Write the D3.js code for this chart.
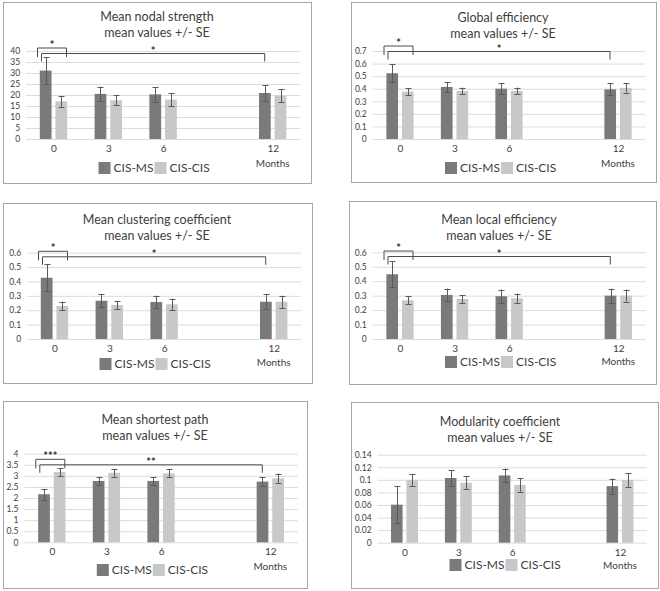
<!DOCTYPE html>
<html>
<head>
<meta charset="utf-8">
<script src="https://cdn.jsdelivr.net/npm/d3@7"></script>
<style>
  body { margin: 0; background: #fff; }
  svg { font-family: Lato, "Liberation Sans", sans-serif; }
</style>
</head>
<body>
<div class="chart"></div>
<script>
// categories
const months = [0, 3, 6, 12];
const seriesNames = ["CIS-MS", "CIS-CIS"];

// mean nodal strength
const strengthMS = [31.1, 20.5, 20.3, 20.9];
const strengthMSse = [6.0, 3.3, 3.3, 3.5];
const strengthCIS = [17.1, 17.6, 17.9, 19.7];
const strengthCISse = [2.4, 2.2, 2.9, 2.9];
const strengthTicks = [0, 5, 10, 15, 20, 25, 30, 35, 40];

// global efficiency
const globalMS = [0.523, 0.414, 0.40, 0.395];
const globalMSse = [0.071, 0.04, 0.043, 0.047];
const globalCIS = [0.377, 0.382, 0.382, 0.406];
const globalCISse = [0.027, 0.027, 0.027, 0.037];
const globalTicks = [0, 0.1, 0.2, 0.3, 0.4, 0.5, 0.6, 0.7];

// mean clustering coefficient
const clusterMS = [0.426, 0.266, 0.257, 0.259];
const clusterMSse = [0.095, 0.046, 0.044, 0.051];
const clusterCIS = [0.229, 0.236, 0.241, 0.259];
const clusterCISse = [0.03, 0.03, 0.039, 0.042];
const clusterTicks = [0, 0.1, 0.2, 0.3, 0.4, 0.5, 0.6];

// mean local efficiency
const localMS = [0.448, 0.305, 0.296, 0.30];
const localMSse = [0.09, 0.044, 0.046, 0.049];
const localCIS = [0.268, 0.277, 0.282, 0.30];
const localCISse = [0.028, 0.026, 0.032, 0.042];
const localTicks = [0, 0.1, 0.2, 0.3, 0.4, 0.5, 0.6];

// mean shortest path
const pathMS = [2.17, 2.77, 2.77, 2.74];
const pathMSse = [0.24, 0.18, 0.18, 0.19];
const pathCIS = [3.17, 3.14, 3.11, 2.89];
const pathCISse = [0.17, 0.18, 0.18, 0.21];
const pathTicks = [0, 0.5, 1, 1.5, 2, 2.5, 3, 3.5, 4];

// modularity coefficient
const modMS = [0.0605, 0.103, 0.107, 0.090];
const modMSse = [0.029, 0.012, 0.011, 0.012];
const modCIS = [0.100, 0.0955, 0.092, 0.100];
const modCISse = [0.0095, 0.01, 0.011, 0.011];
const modTicks = [0, 0.02, 0.04, 0.06, 0.08, 0.1, 0.12, 0.14];

// significance marks: [small bracket label, big bracket label]
const sigStrength = ["*", "*"];
const sigGlobal = ["*", "*"];
const sigCluster = ["*", "*"];
const sigLocal = ["*", "*"];
const sigPath = ["***", "**"];

const colors = {"CIS-MS": "#7a7a7a", "CIS-CIS": "#c8c8c8"};

const panels = [
  {title: "Mean nodal strength", ms: strengthMS, mse: strengthMSse, cis: strengthCIS, cse: strengthCISse, ticks: strengthTicks, sig: sigStrength,
   box: [3, 2, 308, 181], c0: 53.5, c12: 272.7, y0: 139, yTop: 51, tY: 17, tX: 157, brY: 48, legY: 162, monY: 163},
  {title: "Global efficiency", ms: globalMS, mse: globalMSse, cis: globalCIS, cse: globalCISse, ticks: globalTicks, sig: sigGlobal,
   box: [351, 2, 305, 180], c0: 400, c12: 618, y0: 139, yTop: 51, tY: 18, tX: 503, brY: 46, legY: 162, monY: 163},
  {title: "Mean clustering coefficient", ms: clusterMS, mse: clusterMSse, cis: clusterCIS, cse: clusterCISse, ticks: clusterTicks, sig: sigCluster,
   box: [3, 203, 309, 180], c0: 54.5, c12: 273.7, y0: 339, yTop: 252.7, tY: 220, tX: 157, brY: 251.3, legY: 358, monY: 362.7},
  {title: "Mean local efficiency", ms: localMS, mse: localMSse, cis: localCIS, cse: localCISse, ticks: localTicks, sig: sigLocal,
   box: [349, 201, 307, 183], c0: 400, c12: 618.3, y0: 339, yTop: 252.3, tY: 220, tX: 499, brY: 251, legY: 356, monY: 361.7},
  {title: "Mean shortest path", ms: pathMS, mse: pathMSse, cis: pathCIS, cse: pathCISse, ticks: pathTicks, sig: sigPath,
   box: [3, 401, 304, 187], c0: 51.8, c12: 270.3, y0: 542.3, yTop: 453.7, tY: 420, tX: 155, brY: 459.3, legY: 564, monY: 566.7},
  {title: "Modularity coefficient", ms: modMS, mse: modMSse, cis: modCIS, cse: modCISse, ticks: modTicks, sig: null,
   box: [351, 402, 307, 186], c0: 404.5, c12: 620, y0: 542.7, yTop: 454.7, tY: 421.7, tX: 500, brY: 0, legY: 559, monY: 565}
];

const svg = d3.select(".chart").append("svg")
    .attr("width", 660)
    .attr("height", 591);

const fmt = v => String(+v.toFixed(3));

panels.forEach(p => {
  const g = svg.append("g");
  const [bx, by, bw, bh] = p.box;

  g.append("rect")
    .attr("x", bx + 0.5).attr("y", by + 0.5)
    .attr("width", bw).attr("height", bh)
    .attr("fill", "#fff")
    .attr("stroke", "#a6a6a6");

  // title
  g.append("text")
    .attr("x", p.tX).attr("y", p.tY)
    .attr("dy", "0.35em")
    .attr("text-anchor", "middle")
    .attr("font-size", 12.5)
    .attr("fill", "#404040")
    .text(p.title);
  g.append("text")
    .attr("x", p.tX).attr("y", p.tY + 15.5)
    .attr("dy", "0.35em")
    .attr("text-anchor", "middle")
    .attr("font-size", 12.5)
    .attr("fill", "#404040")
    .text("mean values +/- SE");

  const x = d3.scaleLinear()
    .domain([0, 12])
    .range([p.c0, p.c12]);
  const k = (p.c12 - p.c0) / 12;
  const x1 = d3.scaleBand()
    .domain(seriesNames)
    .range([-0.75 * k, 0.75 * k])
    .paddingInner(0.25);
  const yMax = p.ticks[p.ticks.length - 1];
  const y = d3.scaleLinear()
    .domain([0, yMax])
    .range([p.y0, p.yTop]);

  // grid
  const yAxis = d3.axisLeft(y)
    .tickValues(p.ticks)
    .tickFormat(fmt)
    .tickSize(-(x(13.5) - x(-1.5)))
    .tickPadding(6);
  g.append("g")
    .attr("transform", "translate(" + x(-1.5) + ",0)")
    .call(yAxis)
    .call(a => a.select(".domain").remove())
    .call(a => a.selectAll(".tick line").attr("stroke", "#dcdcdc"))
    .call(a => a.selectAll(".tick text").attr("font-size", 8.5).attr("fill", "#404040").attr("font-family", "Lato, sans-serif"));

  // x labels
  const xAxis = d3.axisBottom(x)
    .tickValues(months)
    .tickSize(0)
    .tickPadding(6);
  g.append("g")
    .attr("transform", "translate(0," + p.y0 + ")")
    .call(xAxis)
    .call(a => a.select(".domain").remove())
    .call(a => a.selectAll(".tick text").attr("font-size", 10).attr("fill", "#404040").attr("font-family", "Lato, sans-serif"));
  g.append("text")
    .attr("x", x(12)).attr("y", p.monY)
    .attr("dy", "0.35em")
    .attr("text-anchor", "middle")
    .attr("font-size", 10)
    .attr("fill", "#404040")
    .text("Months");

  const rows = [];
  months.forEach((m, i) => {
    rows.push({m: m, s: "CIS-MS", v: p.ms[i], se: p.mse[i]});
    rows.push({m: m, s: "CIS-CIS", v: p.cis[i], se: p.cse[i]});
  });

  // bars
  g.append("g").selectAll("rect")
    .data(rows)
    .join("rect")
      .attr("x", d => x(d.m) + x1(d.s))
      .attr("y", d => y(d.v))
      .attr("width", x1.bandwidth())
      .attr("height", d => y(0) - y(d.v))
      .attr("fill", d => colors[d.s]);

  // error bars
  const eb = g.append("g")
    .attr("stroke", "#5a5a5a")
    .attr("stroke-width", 1);
  eb.selectAll(".stem")
    .data(rows)
    .join("line")
      .attr("class", "stem")
      .attr("x1", d => Math.round(x(d.m) + x1(d.s) + x1.bandwidth() / 2) + 0.5)
      .attr("x2", d => Math.round(x(d.m) + x1(d.s) + x1.bandwidth() / 2) + 0.5)
      .attr("y1", d => y(d.v + d.se))
      .attr("y2", d => y(d.v - d.se));
  ["top", "bot"].forEach(side => {
    eb.selectAll("." + side)
      .data(rows)
      .join("line")
        .attr("class", side)
        .attr("x1", d => Math.round(x(d.m) + x1(d.s) + x1.bandwidth() / 2) - 2.5)
        .attr("x2", d => Math.round(x(d.m) + x1(d.s) + x1.bandwidth() / 2) + 3.5)
        .attr("y1", d => Math.round(y(side == "top" ? d.v + d.se : d.v - d.se)) + 0.5)
        .attr("y2", d => Math.round(y(side == "top" ? d.v + d.se : d.v - d.se)) + 0.5);
  });

  // significance brackets
  if (p.sig) {
    const br = g.append("g")
      .attr("fill", "none")
      .attr("stroke", "#4d4d4d")
      .attr("stroke-width", 1);
    const sL = x(0) - 16, sR = x(0) + 13, sT = p.brY;
    const bL = x(0) - 12, bR = x(12) - 8, bT = p.brY + 5.5;
    br.append("path")
      .attr("d", "M" + sL + "," + (sT + 9) + "V" + sT + "H" + sR + "V" + (sT + 9));
    br.append("path")
      .attr("d", "M" + bL + "," + (bT + 8) + "V" + bT + "H" + bR + "V" + (bT + 8));
    g.append("text")
      .attr("x", (sL + sR) / 2).attr("y", sT + 1)
      .attr("text-anchor", "middle")
      .attr("font-size", 11)
      .attr("font-weight", "bold")
      .attr("fill", "#333")
      .text(p.sig[0]);
    g.append("text")
      .attr("x", (bL + bR) / 2).attr("y", bT + 1)
      .attr("text-anchor", "middle")
      .attr("font-size", 11)
      .attr("font-weight", "bold")
      .attr("fill", "#333")
      .text(p.sig[1]);
  }

  // legend
  const lx = x(0) + 45;
  const leg = g.append("g")
    .attr("transform", "translate(" + lx + "," + p.legY + ")");
  seriesNames.forEach((s, i) => {
    leg.append("rect")
      .attr("x", i * 56).attr("y", 0)
      .attr("width", 12).attr("height", 12)
      .attr("fill", colors[s]);
    leg.append("text")
      .attr("x", i * 56 + 15).attr("y", 6)
      .attr("dy", "0.36em")
      .attr("font-size", 12)
      .attr("fill", "#404040")
      .text(s);
  });
});
</script>
</body>
</html>
